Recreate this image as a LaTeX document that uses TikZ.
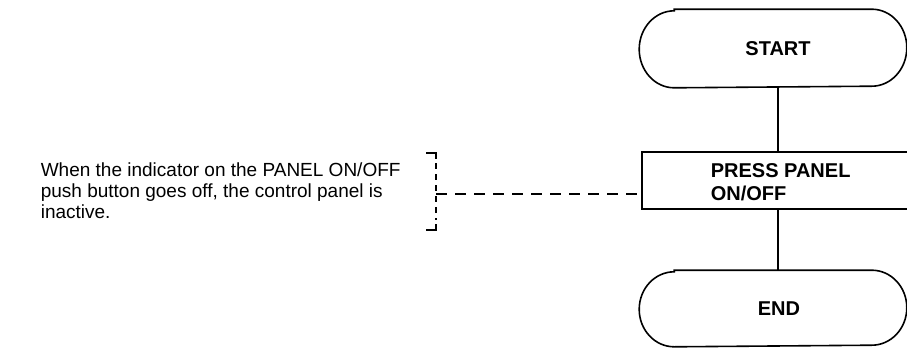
\documentclass[tikz,border=0pt]{standalone}
\usepackage{fontspec}
\setmainfont{Liberation Sans}
\begin{document}
\begin{tikzpicture}[x=1pt,y=-1pt,line width=1.6pt,
  terminal/.style={minimum width=266pt,minimum height=77pt,inner sep=0pt,font=\bfseries\fontsize{20}{20}\selectfont},
  procbox/.style={draw,minimum width=274pt,minimum height=57pt,anchor=north west,inner sep=0pt},
  boxtext/.style={anchor=north west,align=left,inner sep=0pt,font=\bfseries\fontsize{20}{23}\selectfont},
  notetext/.style={anchor=north west,align=left,inner sep=0pt,font=\fontsize{19}{21}\selectfont},
  outline/.style={line width=1.6pt},
  dashline/.style={line width=1.6pt,dash pattern=on 11pt off 8pt},
  bracketdash/.style={line width=1.6pt,dash pattern=on 6pt off 5pt}]
\useasboundingbox (0,0) rectangle (907,348);
% terminals
\node[terminal] (start) at (773,48.5) {\hspace*{10pt}START};
\draw[outline] ([xshift=35pt]start.north west) -- ([xshift=-35pt]start.north east)
  arc[start angle=90,end angle=-90,x radius=35pt,y radius=38.5pt]
  -- ([xshift=35pt]start.south west)
  arc[start angle=270,end angle=90,x radius=35pt,y radius=38.5pt] -- cycle;
\node[terminal,minimum height=75pt] (end) at (773,308.5) {\hspace*{12pt}END};
\draw[outline] ([xshift=35pt]end.north west) -- ([xshift=-35pt]end.north east)
  arc[start angle=90,end angle=-90,x radius=35pt,y radius=37.5pt]
  -- ([xshift=35pt]end.south west)
  arc[start angle=270,end angle=90,x radius=35pt,y radius=37.5pt] -- cycle;
% process box
\node[procbox] (press) at (641,151) {};
\node[boxtext] (presstext) at (710,163) {PRESS PANEL\\ON/OFF};
% flow lines
\coordinate (flowx) at (778,0);
\draw[outline] (start.south -| flowx) -- (press.north -| flowx);
\draw[outline] (press.south -| flowx) -- (end.north -| flowx);
% annotation
\node[notetext] (note) at (40,162) {When the indicator on the PANEL ON/OFF\\push button goes off, the control panel is\\inactive.};
\coordinate (btop) at (436,153);
\coordinate (bbot) at (436,230);
\coordinate (btick) at (436,194);
\draw[outline] ([xshift=-10pt]btop) -- (btop) -- ([yshift=-6pt]btop);
\draw[bracketdash] ([yshift=-10pt]btop) -- ([yshift=10pt]bbot);
\draw[outline] ([yshift=6pt]bbot) -- (bbot) -- ([xshift=-10pt]bbot);
\draw[dashline] (btick) -- (btick -| press.west);
\end{tikzpicture}
\end{document}
